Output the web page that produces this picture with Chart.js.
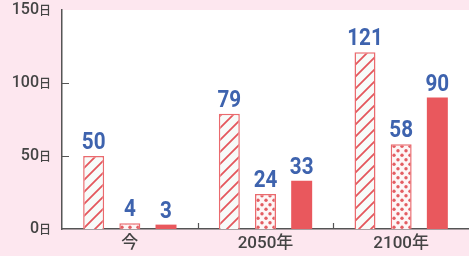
<!DOCTYPE html>
<html>
<head>
<meta charset="utf-8">
<script src="https://cdn.jsdelivr.net/npm/chart.js@4"></script>
<style>
  html, body { margin: 0; padding: 0; background: #fde7ef; }
</style>
</head>
<body>
<canvas id="c" width="469" height="256"></canvas>
<script>
const categories = ['今', '2050年', '2100年']
const hatchValues = [50, 79, 121]
const dotValues = [4, 24, 58]
const solidValues = [3, 33, 90]
const yTicks = [0, 50, 100, 150]
const yUnit = '日'

const RED = '#e9585d'
const EDGE = '#ea6a6e'
const BLUE = '#3e63ae'
const INK = '#444'
const PINK = '#fde7ef'

// diagonal stripes, bottom-left to top-right
function makeHatch() {
    const c = document.createElement('canvas')
    c.width = 12
    c.height = 12
    const x = c.getContext('2d')
    x.fillStyle = '#f7fbf9'
    x.fillRect(0, 0, 12, 12)
    x.strokeStyle = '#e4575c'
    x.lineWidth = 1.8
    x.beginPath()
    x.moveTo(-3, 15); x.lineTo(15, -3)
    x.moveTo(-3, 3); x.lineTo(3, -3)
    x.moveTo(9, 15); x.lineTo(15, 9)
    x.stroke()
    return x.createPattern(c, 'repeat')
}

// staggered red dots
function makeDots() {
    const c = document.createElement('canvas')
    c.width = 8
    c.height = 9
    const x = c.getContext('2d')
    x.fillStyle = '#fdf6f6'
    x.fillRect(0, 0, 8, 9)
    x.fillStyle = '#e35d62'
    ;[[2, 2.2], [6, 6.7]].forEach(([px, py]) => {
        x.beginPath()
        x.arc(px, py, 1.7, 0, Math.PI * 2)
        x.fill()
    })
    return x.createPattern(c, 'repeat')
}

const decor = {
    id: 'decor',
    beforeDraw(chart) {
        const {ctx, chartArea: a} = chart
        ctx.save()
        ctx.fillStyle = PINK
        ctx.fillRect(0, 0, chart.width, chart.height)
        ctx.fillStyle = '#fff'
        ctx.fillRect(a.left, a.top, a.right - a.left, a.bottom - a.top)
        ctx.restore()
    },
    afterDraw(chart) {
        const {ctx, chartArea: a} = chart
        const xs = chart.scales.x
        const ys = chart.scales.y
        ctx.save()
        // inward ticks
        ctx.strokeStyle = '#555'
        ctx.lineWidth = 1.2
        ctx.beginPath()
        yTicks.slice(1, -1).forEach(v => {
            const py = Math.round(ys.getPixelForValue(v)) + 0.5
            ctx.moveTo(a.left, py)
            ctx.lineTo(a.left + 7, py)
        })
        for (let i = 0; i < categories.length - 1; i++) {
            const px = Math.round((xs.getPixelForValue(i) + xs.getPixelForValue(i + 1)) / 2) + 0.5
            ctx.moveTo(px, a.bottom)
            ctx.lineTo(px, a.bottom - 6)
        }
        ctx.stroke()

        // y tick labels with small unit
        ctx.fillStyle = INK
        ctx.textBaseline = 'middle'
        ctx.textAlign = 'right'
        yTicks.forEach(v => {
            const py = ys.getPixelForValue(v)
            const right = a.left - 11
            ctx.font = '500 12px "Noto Sans CJK JP"'
            const uw = ctx.measureText(yUnit).width
            ctx.fillText(yUnit, right, py + 0.5)
            ctx.font = '500 16px Roboto'
            ctx.fillText(String(v), right - uw, py)
        })

        // value labels above bars (slightly condensed)
        ctx.fillStyle = BLUE
        ctx.textAlign = 'center'
        ctx.textBaseline = 'alphabetic'
        ctx.font = 'bold 24px Roboto'
        const squeeze = 0.86
        chart.data.datasets.forEach((ds, di) => {
            chart.getDatasetMeta(di).data.forEach((bar, i) => {
                ctx.save()
                ctx.translate(bar.x, bar.y - 7)
                ctx.scale(squeeze, 1)
                ctx.fillText(String(ds.data[i]), 0, 0)
                ctx.restore()
            })
        })
        ctx.restore()
    }
}

const chart = new Chart(document.getElementById('c'), {
    type: 'bar',
    data: {
        labels: categories,
        datasets: [
            {data: hatchValues, backgroundColor: makeHatch(), borderColor: EDGE, borderWidth: 1.5},
            {data: dotValues, backgroundColor: makeDots(), borderColor: EDGE, borderWidth: 1.5},
            {data: solidValues, backgroundColor: RED, borderWidth: 0}
        ]
    },
    options: {
        responsive: false,
        devicePixelRatio: 1,
        animation: false,
        categoryPercentage: 0.8,
        barPercentage: 0.58,
        layout: {padding: {top: 10, right: 0, bottom: 0, left: 0}},
        plugins: {
            legend: {display: false},
            tooltip: {enabled: false}
        },
        scales: {
            x: {
                grid: {display: false, drawTicks: false},
                border: {color: '#555', width: 1.5},
                ticks: {
                    padding: 5,
                    color: INK,
                    font: {family: 'Roboto, "Noto Sans CJK JP"', size: 17, weight: '500'}
                },
                afterFit(scale) { scale.height = 27 }
            },
            y: {
                min: 0,
                max: 150,
                ticks: {display: false, stepSize: 50},
                grid: {display: false, drawTicks: false},
                border: {color: '#555', width: 1.5},
                afterFit(scale) { scale.width = 62 }
            }
        }
    },
    plugins: [decor]
})
</script>
</body>
</html>
